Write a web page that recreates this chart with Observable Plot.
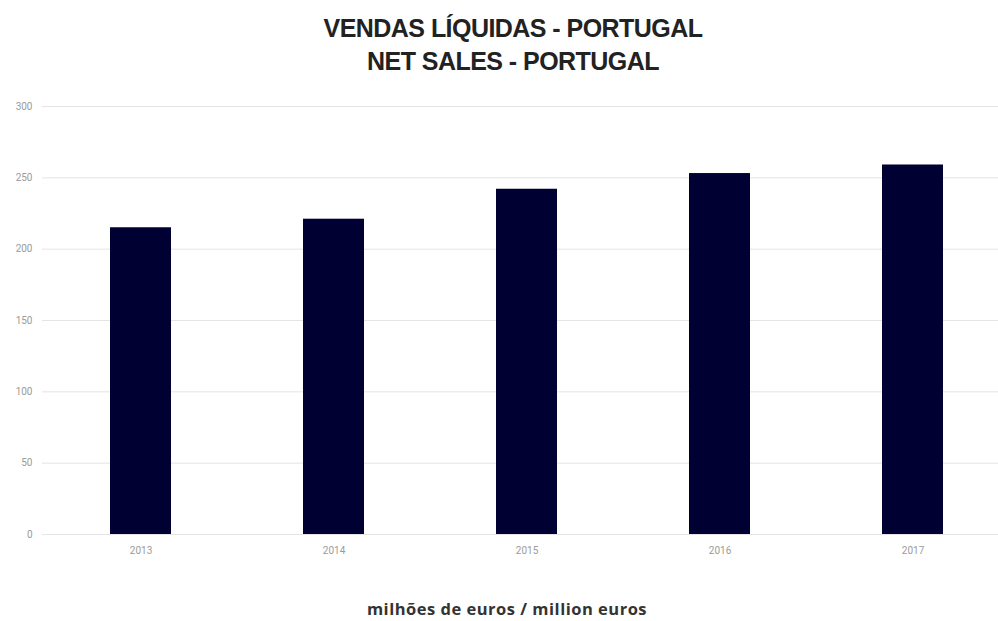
<!DOCTYPE html>
<html>
<head>
<meta charset="utf-8">
<script src="https://cdn.jsdelivr.net/npm/d3@7"></script>
<script src="https://cdn.jsdelivr.net/npm/@observablehq/plot@0.6"></script>
<style>
  html, body { margin: 0; padding: 0; background: #fff; }
  #wrap { width: 998px; height: 621px; position: relative; overflow: hidden; }
  .title { position: absolute; left: 14px; width: 998px; text-align: center; font-family: "Liberation Sans", Arial, sans-serif; font-weight: 700; font-size: 25px; color: #222; letter-spacing: -0.55px; line-height: 33px; top: 12px; }
  #chart { position: absolute; left: 0; top: 90px; }
  .caption { position: absolute; left: 8px; width: 998px; text-align: center; top: 597px; font-family: "Open Sans", sans-serif; font-weight: 700; font-size: 16.5px; letter-spacing: 0.5px; color: #333; }
</style>
</head>
<body>
<div id="wrap">
  <div class="title">VENDAS LÍQUIDAS - PORTUGAL<br>NET SALES - PORTUGAL</div>
  <div id="chart"></div>
  <div class="caption">milhões de euros / million euros</div>
</div>
<script>
const years = ["2013", "2014", "2015", "2016", "2017"];
const sales = [215, 221, 242, 253, 259];
const yTicks = [0, 50, 100, 150, 200, 250, 300];

const data = years.map((y, i) => ({year: y, value: sales[i]}));

const plot = Plot.plot({
  width: 998,
  height: 485,
  marginLeft: 42,
  marginRight: 0,
  marginTop: 16,
  marginBottom: 41,
  style: {fontFamily: "'Liberation Sans Narrow', 'Roboto', sans-serif", fontSize: "10px", color: "#999", background: "transparent"},
  x: {domain: years, range: [42.5, 1011], paddingInner: 0.685, paddingOuter: 0.3425, align: 0.5, label: null},
  y: {domain: [0, 300], label: null},
  marks: [
    Plot.gridY(yTicks, {stroke: "#e4e4e4", strokeOpacity: 1, strokeWidth: 1}),
    Plot.barY(data, {x: "year", y: "value", fill: "#000033"}),
    Plot.axisY(yTicks, {tickSize: 0, tickPadding: 10, label: null, fill: "#9a9a9a"}),
    Plot.axisX({tickSize: 0, tickPadding: 12, label: null, fill: "#9a9a9a"})
  ]
});
document.getElementById("chart").appendChild(plot);
</script>
</body>
</html>
